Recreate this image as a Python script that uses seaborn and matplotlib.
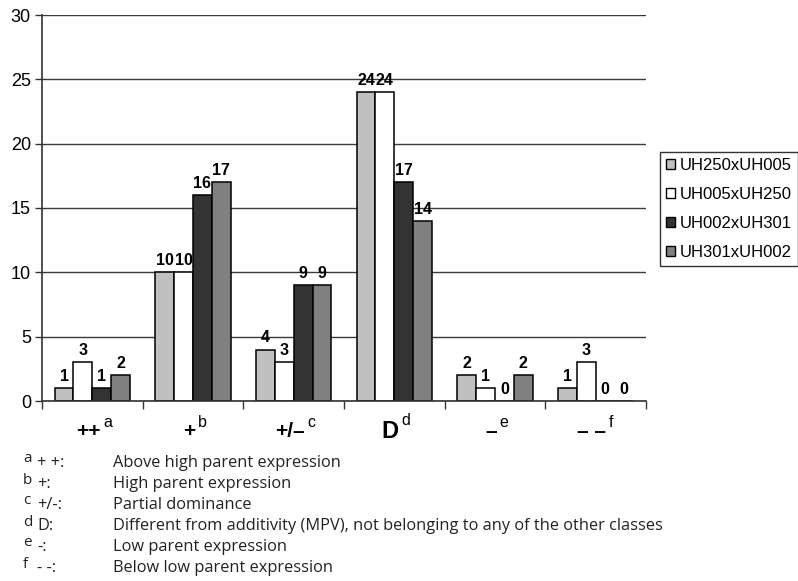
import pandas as pd
import matplotlib
matplotlib.use("Agg")
import matplotlib.pyplot as plt
import matplotlib.patches as mpatches
import seaborn as sns

# Klassen (x-Achse) und Kreuzungen (Serien)
classes = ["++", "+", "+/–", "D", "–", "– –"]
class_sup = ["a", "b", "c", "d", "e", "f"]
crosses = ["UH250xUH005", "UH005xUH250", "UH002xUH301", "UH301xUH002"]

uh250_uh005 = [1, 10, 4, 24, 2, 1]
uh005_uh250 = [3, 10, 3, 24, 1, 3]
uh002_uh301 = [1, 16, 9, 17, 0, 0]
uh301_uh002 = [2, 17, 9, 14, 2, 0]

bar_colors = ["#c0c0c0", "#ffffff", "#333333", "#808080"]

foot_symbols = ["+ +:", "+:", "+/-:", "D:", "-:", "- -:"]
foot_texts = [
    "Above high parent expression",
    "High parent expression",
    "Partial dominance",
    "Different from additivity (MPV), not belonging to any of the other classes",
    "Low parent expression",
    "Below low parent expression",
]

# Daten in ein DataFrame umwandeln
series = [uh250_uh005, uh005_uh250, uh002_uh301, uh301_uh002]
df = pd.DataFrame({
    "cls": [c for _ in crosses for c in classes],
    "cross": [cr for cr in crosses for _ in classes],
    "count": [v for s in series for v in s],
})

W, H = 798, 581
fig = plt.figure(figsize=(W / 100, H / 100), dpi=100)
ax = fig.add_axes([42 / W, 1 - 401 / H, (646 - 42) / W, (401 - 15) / H])

sns.barplot(data=df, x="cls", y="count", hue="cross", order=classes,
            hue_order=crosses, palette=bar_colors, edgecolor="black",
            linewidth=1.1, width=0.75, gap=0, saturation=1, legend=False, ax=ax)

for cont in ax.containers:
    ax.bar_label(cont, fmt="%d", padding=3, fontsize=11.5, fontweight="bold",
                 family="Liberation Sans")

ax.set_ylim(0, 30)
ax.set_xlim(-0.5, len(classes) - 0.5)
ax.set_yticks(range(0, 31, 5))
ax.yaxis.grid(True, color="#3a3a3a", linewidth=1)
ax.set_axisbelow(True)
for side in ["top", "right"]:
    ax.spines[side].set_visible(False)
for side in ["left", "bottom"]:
    ax.spines[side].set_color("#333333")
    ax.spines[side].set_linewidth(1.2)
ax.tick_params(axis="y", length=5, width=1, color="#333333", labelsize=13, pad=3)
for lab in ax.get_yticklabels():
    lab.set_family("Liberation Sans")

# Tick-Striche an den Klassengrenzen, Beschriftungen als Text
ax.set_xticks([i - 0.5 for i in range(len(classes) + 1)])
ax.set_xticklabels([])
ax.tick_params(axis="x", length=6, width=1, color="#333333")
ax.set_xlabel("")
ax.set_ylabel("")

for i, (c, s) in enumerate(zip(classes, class_sup)):
    size = 17 if c == "D" else 15
    t = ax.annotate(c, xy=(i, 0), xycoords=("data", "axes fraction"),
                    xytext=(-3, -22), textcoords="offset points",
                    ha="center", va="center", fontsize=size, fontweight="bold",
                    family="Liberation Sans")
    ax.annotate(s, xy=(1, 1.0), xycoords=t, xytext=(2, 0),
                textcoords="offset points", ha="left", va="center",
                fontsize=11.5, family="Liberation Sans")

handles = [mpatches.Patch(facecolor=c, edgecolor="black", linewidth=1) for c in bar_colors]
leg = fig.legend(handles, crosses, loc="upper left",
                 bbox_to_anchor=(660 / W, 1 - 152 / H), prop={"family": "Liberation Sans", "size": 12},
                 frameon=True, fancybox=False, edgecolor="black", handlelength=0.55,
                 handleheight=0.55, handletextpad=0.3, labelspacing=0.85, borderpad=0.35,
                 borderaxespad=0)
leg.get_frame().set_linewidth(1)

# Fussnoten
for i, (s, sym, txt) in enumerate(zip(class_sup, foot_symbols, foot_texts)):
    y = 463 + 21 * i
    fig.text(23 / W, 1 - (y - 4) / H, s, fontsize=11, family="Open Sans", va="center", color="#222222")
    fig.text(37 / W, 1 - y / H, sym, fontsize=11.8, family="Open Sans", va="center", color="#222222")
    fig.text(113 / W, 1 - y / H, txt, fontsize=11.8, family="Open Sans", va="center", color="#222222")

fig.savefig("out.png", dpi=100)
